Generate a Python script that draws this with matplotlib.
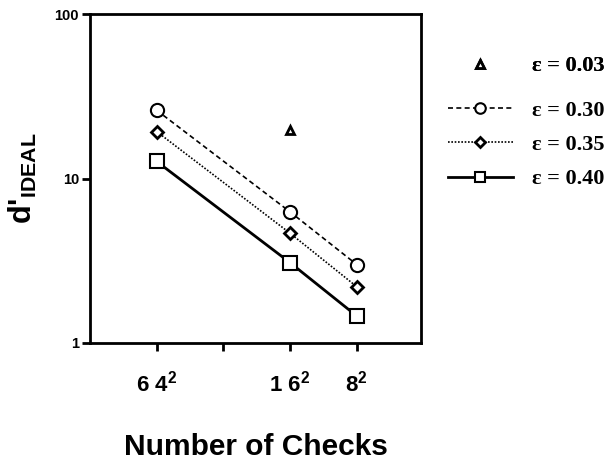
import matplotlib
matplotlib.use("Agg")
import matplotlib.pyplot as plt
from matplotlib.ticker import FixedLocator, NullLocator, FixedFormatter

plt.rcParams['mathtext.fontset'] = 'custom'
plt.rcParams['mathtext.rm'] = 'Liberation Sans:bold'
plt.rcParams['mathtext.bf'] = 'Liberation Sans:bold'

# checks per side (number of checks = side^2)
sides = [64, 16, 8]
tick_sides = [64, 32, 16, 8]
tick_labels = ['6 4$^{2}$', '', '1 6$^{2}$', '8$^{2}$']

eps_labels = ['ε = 0.03', 'ε = 0.30', 'ε = 0.35', 'ε = 0.40']
d_eps003 = [19.7]
d_eps030 = [26.0, 6.27, 3.0]
d_eps035 = [19.3, 4.65, 2.2]
d_eps040 = [12.7, 3.08, 1.46]

fig = plt.figure(figsize=(6.13, 4.62), dpi=100)
ax = fig.add_axes([0.1468, 0.2576, 0.540, 0.712])

tri, = ax.plot([16], d_eps003, linestyle='none', marker='^', ms=6,
               mfc='white', mec='black', mew=2)
circ, = ax.plot(sides, d_eps030, color='black', lw=1.2, ls=(0, (3, 2)),
                marker='o', ms=9.5, mfc='white', mec='black', mew=1.5)
diam, = ax.plot(sides, d_eps035, color='black', lw=1.2, ls=(0, (1, 1)),
                marker='D', ms=6, mfc='white', mec='black', mew=2)
sq, = ax.plot(sides, d_eps040, color='black', lw=2, ls='-',
              marker='s', ms=9.5, mfc='white', mec='black', mew=1.5)

ax.set_xscale('log', base=2)
ax.set_yscale('log')
ax.set_xlim(128, 4.1)
ax.set_ylim(1, 100)

ax.xaxis.set_major_locator(FixedLocator(tick_sides))
ax.xaxis.set_major_formatter(FixedFormatter(tick_labels))
ax.xaxis.set_minor_locator(NullLocator())
ax.yaxis.set_major_locator(FixedLocator([1, 10, 100]))
ax.yaxis.set_major_formatter(FixedFormatter(['1', '10', '100']))
ax.yaxis.set_minor_locator(NullLocator())

for s in ax.spines.values():
    s.set_linewidth(2)
ax.tick_params(axis='both', direction='out', length=6, width=2)
ax.tick_params(axis='x', pad=14)
ax.tick_params(axis='y', pad=2)
for lbl in ax.get_xticklabels():
    lbl.set_fontsize(16)
    lbl.set_fontweight('bold')
    lbl.set_family('Liberation Sans')
for lbl in ax.get_yticklabels():
    lbl.set_fontsize(10.5)
    lbl.set_fontweight('bold')
    lbl.set_family('Liberation Sans')

ax.set_xlabel('Number of Checks', fontsize=21.5, fontweight='bold',
              family='Liberation Sans', labelpad=26)
ax.set_ylabel("d'$_{\\mathrm{IDEAL}}$", fontsize=22, fontweight='bold',
              family='Liberation Sans', labelpad=11)

leg_font = {'family': 'Liberation Serif', 'weight': 'bold', 'size': 16}
leg1 = fig.legend([tri], [eps_labels[0]], loc='center left',
                  bbox_to_anchor=(0.713, 0.857), frameon=False, prop=leg_font,
                  handlelength=2.9, handletextpad=0.85, borderpad=0)
fig.legend([circ, diam, sq], eps_labels[1:], loc='upper left',
           bbox_to_anchor=(0.713, 0.807), frameon=False, prop=leg_font,
           handlelength=2.9, handletextpad=0.85, labelspacing=0.62,
           borderpad=0, markerscale=0.8)
fig.add_artist(leg1)

fig.savefig('out.png', dpi=100)
